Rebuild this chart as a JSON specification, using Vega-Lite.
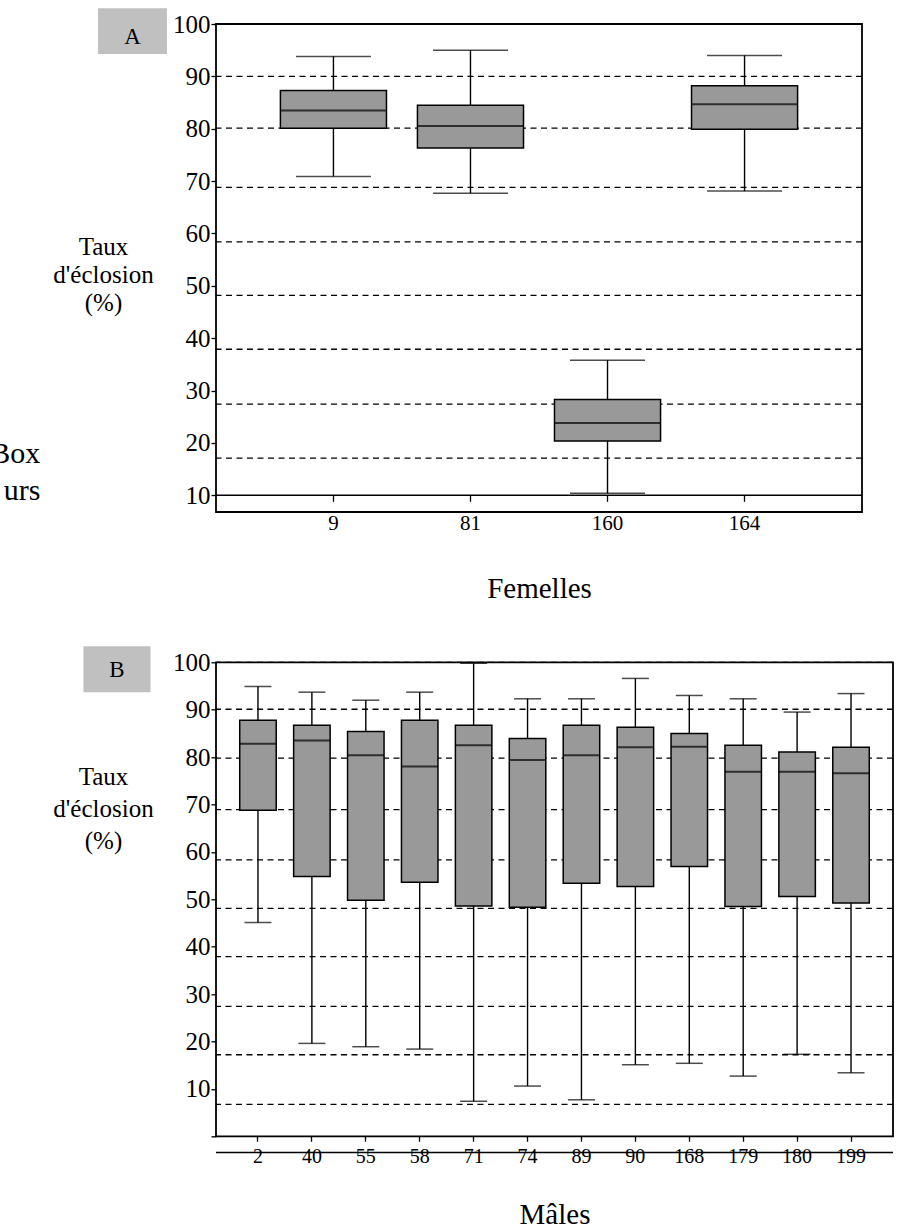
{
  "$schema": "https://vega.github.io/schema/vega-lite/v6.json",
  "padding": {"left": -11, "top": 7, "right": 0, "bottom": 0},
  "config": {
    "font": "Liberation Serif",
    "view": {"stroke": "#000", "strokeWidth": 1.8},
    "axis": {
      "labelFont": "Liberation Serif",
      "titleFont": "Liberation Serif",
      "labelColor": "#000",
      "titleColor": "#000",
      "tickColor": "#000",
      "domainColor": "#000",
      "grid": false,
      "titleFontWeight": "normal"
    },
    "text": {"font": "Liberation Serif", "color": "#000"}
  },
  "datasets": {
    "femelles": [
      {"femelle": "9", "lower": 70.9, "q1": 80.1, "median": 83.5, "q3": 87.3, "upper": 93.8},
      {"femelle": "81", "lower": 67.7, "q1": 76.3, "median": 80.5, "q3": 84.5, "upper": 95.0},
      {"femelle": "160", "lower": 10.4, "q1": 20.4, "median": 23.8, "q3": 28.3, "upper": 35.8},
      {"femelle": "164", "lower": 68.1, "q1": 79.9, "median": 84.7, "q3": 88.2, "upper": 94.0}
    ],
    "males": [
      {"male": "2", "lower": 45.1, "q1": 68.8, "median": 82.8, "q3": 87.8, "upper": 94.9},
      {"male": "40", "lower": 19.6, "q1": 54.8, "median": 83.5, "q3": 86.7, "upper": 93.7},
      {"male": "55", "lower": 18.9, "q1": 49.8, "median": 80.4, "q3": 85.4, "upper": 92.0},
      {"male": "58", "lower": 18.4, "q1": 53.6, "median": 78.0, "q3": 87.8, "upper": 93.7},
      {"male": "71", "lower": 7.4, "q1": 48.6, "median": 82.5, "q3": 86.7, "upper": 99.8},
      {"male": "74", "lower": 10.6, "q1": 48.3, "median": 79.4, "q3": 83.9, "upper": 92.3},
      {"male": "89", "lower": 7.7, "q1": 53.4, "median": 80.4, "q3": 86.7, "upper": 92.3},
      {"male": "90", "lower": 15.1, "q1": 52.7, "median": 82.1, "q3": 86.3, "upper": 96.6},
      {"male": "168", "lower": 15.4, "q1": 56.9, "median": 82.2, "q3": 85.0, "upper": 93.0},
      {"male": "179", "lower": 12.7, "q1": 48.5, "median": 76.9, "q3": 82.5, "upper": 92.3},
      {"male": "180", "lower": 17.3, "q1": 50.6, "median": 76.9, "q3": 81.1, "upper": 89.5},
      {"male": "199", "lower": 13.4, "q1": 49.2, "median": 76.6, "q3": 82.1, "upper": 93.4}
    ],
    "gridA": [
      {"level": 90.0}, {"level": 80.1}, {"level": 68.8}, {"level": 58.4},
      {"level": 48.2}, {"level": 37.9}, {"level": 27.4}, {"level": 17.1}
    ],
    "gridB": [
      {"level": 100}, {"level": 90.1}, {"level": 79.8}, {"level": 68.9}, {"level": 58.3},
      {"level": 48.1}, {"level": 37.9}, {"level": 27.4}, {"level": 17.2}, {"level": 6.75}
    ],
    "baseA": [{"level": 10}],
    "baseB": [{"level": -3.44}]
  },
  "bounds": "flush",
  "spacing": 150.3,
  "vconcat": [
    {
      "width": 646,
      "height": 488,
      "layer": [
        {
          "data": {"name": "gridA"},
          "mark": {"type": "rule", "strokeDash": [6, 4.5], "strokeWidth": 1.3, "color": "#000"},
          "encoding": {
            "y": {
              "field": "level", "type": "quantitative",
              "scale": {"domain": [6.82, 100], "nice": false, "zero": false},
              "axis": {
                "values": [10, 20, 30, 40, 50, 60, 70, 80, 90, 100],
                "domain": false, "tickSize": 5, "tickWidth": 1.3, "labelPadding": 1,
                "labelFontSize": 25,
                "title": ["Taux", "d'éclosion", "(%)"],
                "titleAngle": 0, "titleAlign": "center", "titleBaseline": "middle",
                "titleX": -113, "titleY": 222, "titleFontSize": 25, "titleLineHeight": 28
              }
            }
          }
        },
        {
          "data": {"name": "baseA"},
          "mark": {"type": "rule", "strokeWidth": 1.5, "color": "#000"},
          "encoding": {"y": {"field": "level", "type": "quantitative"}}
        },
        {
          "data": {"name": "femelles"},
          "mark": {"type": "rule", "strokeWidth": 1.4, "color": "#000"},
          "encoding": {
            "x": {
              "field": "femelle", "type": "nominal", "sort": null,
              "scale": {"paddingInner": 0.226, "paddingOuter": 0.47},
              "axis": {
                "orient": "bottom", "offset": -16.7, "domain": false,
                "tickSize": 6, "tickWidth": 1.3, "labelPadding": 11,
                "labelFontSize": 21, "labelAngle": 0,
                "title": "Femelles", "titleFontSize": 29,
                "titleY": 102, "titleBaseline": "alphabetic"
              }
            },
            "y": {"field": "lower", "type": "quantitative"},
            "y2": {"field": "upper"}
          }
        },
        {
          "data": {"name": "femelles"},
          "mark": {"type": "bar", "fill": "#999999", "stroke": "#000", "strokeWidth": 1.5},
          "encoding": {
            "x": {"field": "femelle", "type": "nominal", "sort": null},
            "y": {"field": "q1", "type": "quantitative"},
            "y2": {"field": "q3"}
          }
        },
        {
          "data": {"name": "femelles"},
          "mark": {"type": "tick", "size": 106, "thickness": 2, "color": "#000"},
          "encoding": {
            "x": {"field": "femelle", "type": "nominal", "sort": null},
            "y": {"field": "median", "type": "quantitative"}
          }
        },
        {
          "data": {"name": "femelles"},
          "mark": {"type": "tick", "size": 75, "thickness": 1.5, "color": "#000"},
          "encoding": {
            "x": {"field": "femelle", "type": "nominal", "sort": null},
            "y": {"field": "lower", "type": "quantitative"}
          }
        },
        {
          "data": {"name": "femelles"},
          "mark": {"type": "tick", "size": 75, "thickness": 1.5, "color": "#000"},
          "encoding": {
            "x": {"field": "femelle", "type": "nominal", "sort": null},
            "y": {"field": "upper", "type": "quantitative"}
          }
        },
        {
          "data": {"values": [{"panel": "A"}]},
          "mark": {"type": "bar", "fill": "#c0c0c0", "width": 69, "xOffset": -201},
          "encoding": {
            "x": {"datum": "9", "type": "nominal"},
            "y": {"datum": 103.0, "type": "quantitative"},
            "y2": {"datum": 94.27}
          }
        },
        {
          "data": {"values": [{"panel": "A"}]},
          "mark": {"type": "text", "fontSize": 23, "align": "center", "baseline": "alphabetic", "dx": -201},
          "encoding": {
            "x": {"datum": "9", "type": "nominal"},
            "y": {"datum": 96.26, "type": "quantitative"},
            "text": {"field": "panel"}
          }
        },
        {
          "data": {"values": [{"t": "Box", "v": 16.17}, {"t": "urs", "v": 9.18}]},
          "mark": {"type": "text", "fontSize": 30, "align": "right", "baseline": "alphabetic", "dx": -293.1},
          "encoding": {
            "x": {"datum": "9", "type": "nominal"},
            "y": {"field": "v", "type": "quantitative"},
            "text": {"field": "t"}
          }
        }
      ]
    },
    {
      "width": 677,
      "height": 474,
      "layer": [
        {
          "data": {"name": "gridB"},
          "mark": {"type": "rule", "strokeDash": [6, 4.5], "strokeWidth": 1.3, "color": "#000"},
          "encoding": {
            "y": {
              "field": "level", "type": "quantitative",
              "scale": {"domain": [0, 100], "nice": false, "zero": false},
              "axis": {
                "values": [0, 10, 20, 30, 40, 50, 60, 70, 80, 90, 100],
                "labelExpr": "datum.value == 0 ? '' : datum.label",
                "domain": false, "tickSize": 5, "tickWidth": 1.3, "labelPadding": 1,
                "labelFontSize": 25,
                "title": ["Taux", "d'éclosion", "(%)"],
                "titleAngle": 0, "titleAlign": "center", "titleBaseline": "middle",
                "titleX": -113, "titleY": 114, "titleFontSize": 25, "titleLineHeight": 32
              }
            }
          }
        },
        {
          "data": {"name": "baseB"},
          "mark": {"type": "rule", "strokeWidth": 1.5, "color": "#000"},
          "encoding": {"y": {"field": "level", "type": "quantitative"}}
        },
        {
          "data": {"name": "males"},
          "mark": {"type": "rule", "strokeWidth": 1.4, "color": "#000"},
          "encoding": {
            "x": {
              "field": "male", "type": "nominal", "sort": null,
              "scale": {"paddingInner": 0.323, "paddingOuter": 0.44},
              "axis": {
                "orient": "bottom", "domain": false,
                "tickSize": 5, "tickWidth": 1.3, "labelPadding": 5,
                "labelFontSize": 20, "labelAngle": 0,
                "title": "Mâles", "titleFontSize": 29,
                "titleY": 87.5, "titleBaseline": "alphabetic"
              }
            },
            "y": {"field": "lower", "type": "quantitative"},
            "y2": {"field": "upper"}
          }
        },
        {
          "data": {"name": "males"},
          "mark": {"type": "bar", "fill": "#999999", "stroke": "#000", "strokeWidth": 1.5},
          "encoding": {
            "x": {"field": "male", "type": "nominal", "sort": null},
            "y": {"field": "q1", "type": "quantitative"},
            "y2": {"field": "q3"}
          }
        },
        {
          "data": {"name": "males"},
          "mark": {"type": "tick", "size": 36.5, "thickness": 2, "color": "#000"},
          "encoding": {
            "x": {"field": "male", "type": "nominal", "sort": null},
            "y": {"field": "median", "type": "quantitative"}
          }
        },
        {
          "data": {"name": "males"},
          "mark": {"type": "tick", "size": 27, "thickness": 1.5, "color": "#000"},
          "encoding": {
            "x": {"field": "male", "type": "nominal", "sort": null},
            "y": {"field": "lower", "type": "quantitative"}
          }
        },
        {
          "data": {"name": "males"},
          "mark": {"type": "tick", "size": 27, "thickness": 1.5, "color": "#000"},
          "encoding": {
            "x": {"field": "male", "type": "nominal", "sort": null},
            "y": {"field": "upper", "type": "quantitative"}
          }
        },
        {
          "data": {"values": [{"panel": "B"}]},
          "mark": {"type": "bar", "fill": "#c0c0c0", "width": 67, "xOffset": -141},
          "encoding": {
            "x": {"datum": "2", "type": "nominal"},
            "y": {"datum": 103.4, "type": "quantitative"},
            "y2": {"datum": 93.7}
          }
        },
        {
          "data": {"values": [{"panel": "B"}]},
          "mark": {"type": "text", "fontSize": 23, "align": "center", "baseline": "alphabetic", "dx": -141},
          "encoding": {
            "x": {"datum": "2", "type": "nominal"},
            "y": {"datum": 96.8, "type": "quantitative"},
            "text": {"field": "panel"}
          }
        }
      ]
    }
  ]
}
